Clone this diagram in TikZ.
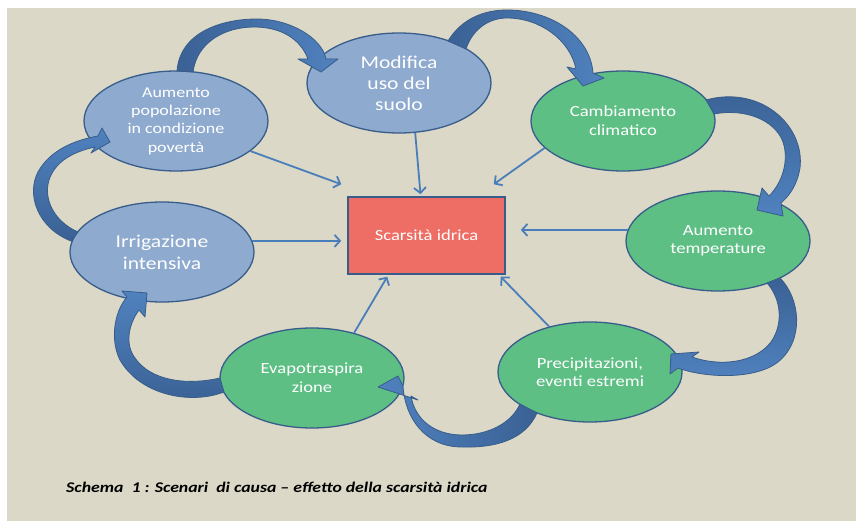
\documentclass[tikz,border=0pt]{standalone}
\usepackage{fontspec}
\setmainfont{Carlito}[FakeStretch=1.2]
\usetikzlibrary{shapes.geometric,arrows.meta}

\definecolor{sfondo}{RGB}{219,216,199}
\definecolor{bordoblu}{RGB}{56,93,138}
\definecolor{causablu}{RGB}{142,170,207}
\definecolor{effettoverde}{RGB}{93,191,132}
\definecolor{scarsrosso}{RGB}{238,110,101}
\definecolor{frecciablu}{RGB}{74,126,187}
\definecolor{curvascuro}{RGB}{58,97,148}
\definecolor{curvachiaro}{RGB}{80,130,191}

\tikzset{
  causa/.style={ellipse, draw=bordoblu, line width=1.3pt, fill=causablu,
    minimum width=184pt, minimum height=100pt, inner sep=0pt,
    align=center, text=white},
  effetto/.style={causa, fill=effettoverde},
  legame/.style={draw=frecciablu, line width=1.8pt,
    -{Straight Barb[length=5.5pt,width=12pt]}},
  ciclo/.style={draw=bordoblu, line width=0.8pt, line join=round}
}

\begin{document}
\begin{tikzpicture}[x=1pt,y=-1pt]

    % Sfondo
    \useasboundingbox (0,0) rectangle (856,521);
    \fill[sfondo] (7,8) rectangle (856,521);

    % Cause
    \node[causa, font=\fontsize{15}{18.3}\selectfont] (popol) at (176,121)
        {Aumento\\popolazione\\in condizione\\povertà};
    \node[causa, font=\fontsize{18}{21}\selectfont] (modif) at (399,83)
        {Modifica\\uso del\\suolo};
    \node[causa, font=\fontsize{18}{22}\selectfont] (irrig) at (162,252)
        {Irrigazione\\intensiva};

    % Effetti
    \node[effetto, font=\fontsize{15.5}{19}\selectfont] (clima) at (623,121)
        {Cambiamento\\climatico};
    \node[effetto, font=\fontsize{15.5}{18.5}\selectfont] (temp) at (718,241)
        {Aumento\\temperature};
    \node[effetto, font=\fontsize{15.5}{18}\selectfont] (precip) at (590,372)
        {Precipitazioni,\\eventi estremi};
    \node[effetto, font=\fontsize{15.5}{19}\selectfont] (evapo) at (312,378)
        {Evapotraspira\\zione};

    % Scarsita
    \node[draw=bordoblu, line width=1.5pt, fill=scarsrosso, minimum width=157pt,
        minimum height=77pt, inner sep=0pt, text=white,
        font=\fontsize{15.5}{18}\selectfont] (scars) at (426.5,235.5) {Scarsità idrica};

    % Frecce curve del ciclo
    \draw[ciclo, left color=curvascuro, right color=curvachiaro]
        (177,71) .. controls (180,32) and (222,19) .. (257,19)
        .. controls (290,19) and (322,38) .. (326,59) -- (338,59) -- (321,72)
        -- (298,59) -- (308,59) .. controls (300,38) and (280,27) .. (254,27)
        .. controls (225,27) and (197,42) .. (193,72) -- cycle;
    \draw[ciclo, left color=curvascuro, right color=curvachiaro]
        (448,41) .. controls (462,18) and (485,10) .. (507,10)
        .. controls (550,10) and (590,35) .. (593,73) -- (604,78) -- (583,86)
        -- (567,67) -- (576,69) .. controls (570,40) and (540,18) .. (507,18)
        .. controls (490,18) and (473,28) .. (466,49) -- cycle;
    \draw[ciclo, top color=curvascuro, bottom color=curvachiaro]
        (706,100) .. controls (760,85) and (805,125) .. (800,168)
        .. controls (797,185) and (790,195) .. (781,203) -- (783,216) -- (757,210)
        -- (762,188) -- (769,196) .. controls (783,182) and (789,160) .. (783,142)
        .. controls (775,120) and (745,108) .. (714,114) -- cycle;
    \draw[ciclo, top color=curvascuro, bottom color=curvachiaro]
        (780,278) .. controls (800,298) and (805,340) .. (778,362)
        .. controls (755,380) and (705,378) .. (678,368) -- (670,374) -- (671,354)
        -- (699,352) -- (692,357) .. controls (720,367) and (755,363) .. (771,342)
        .. controls (783,325) and (782,300) .. (767,283) -- cycle;
    \draw[ciclo, right color=curvascuro, left color=curvachiaro]
        (537,413) .. controls (525,440) and (495,448) .. (462,447)
        .. controls (425,447) and (405,418) .. (403,386) -- (398,376) -- (378,387)
        -- (418,400) -- (411,396) .. controls (415,420) and (435,435) .. (462,435)
        .. controls (490,435) and (512,422) .. (520,404) -- cycle;
    \draw[ciclo, bottom color=curvascuro, top color=curvachiaro]
        (224,392) .. controls (190,405) and (140,395) .. (120,360)
        .. controls (110,340) and (114,312) .. (127,297) -- (122,291) -- (147,293)
        -- (145,317) -- (139,310) .. controls (128,325) and (125,345) .. (135,358)
        .. controls (150,380) and (185,386) .. (220,378) -- cycle;
    \draw[ciclo, bottom color=curvascuro, top color=curvachiaro]
        (71,241) .. controls (38,228) and (26,195) .. (38,172)
        .. controls (50,150) and (75,140) .. (98,136) -- (102,128) -- (110,142)
        -- (91,153) -- (95,147) .. controls (72,152) and (55,162) .. (49,180)
        .. controls (43,200) and (55,222) .. (78,232) -- cycle;

    % Frecce verso la scarsita
    \draw[legame] (popol.-22) -- ([shift={(-6,-12)}]scars.north west);
    \draw[legame] (modif.-72) -- ([shift={(-6,-2)}]scars.north);
    \draw[legame] (clima.199) -- ([shift={(-12,-12)}]scars.north east);
    \draw[legame, shorten >=6pt] (irrig.7) -- (irrig.7 -| scars.west);
    \draw[legame, shorten >=15pt] (temp.173) -- (temp.173 -| scars.east);
    \draw[legame] (precip.132) -- ([shift={(-5,2)}]scars.south east);
    \draw[legame] (evapo.47) -- ([shift={(40,2)}]scars.south west);

    % Didascalia
    \node[anchor=base west, inner sep=0pt,
        font=\fontsize{14.8}{17}\selectfont\bfseries\itshape] (didasc) at (66,492)
        {Schema\ \ 1 : Scenari\ \ di causa – effetto della scarsità idrica};

\end{tikzpicture}
\end{document}
